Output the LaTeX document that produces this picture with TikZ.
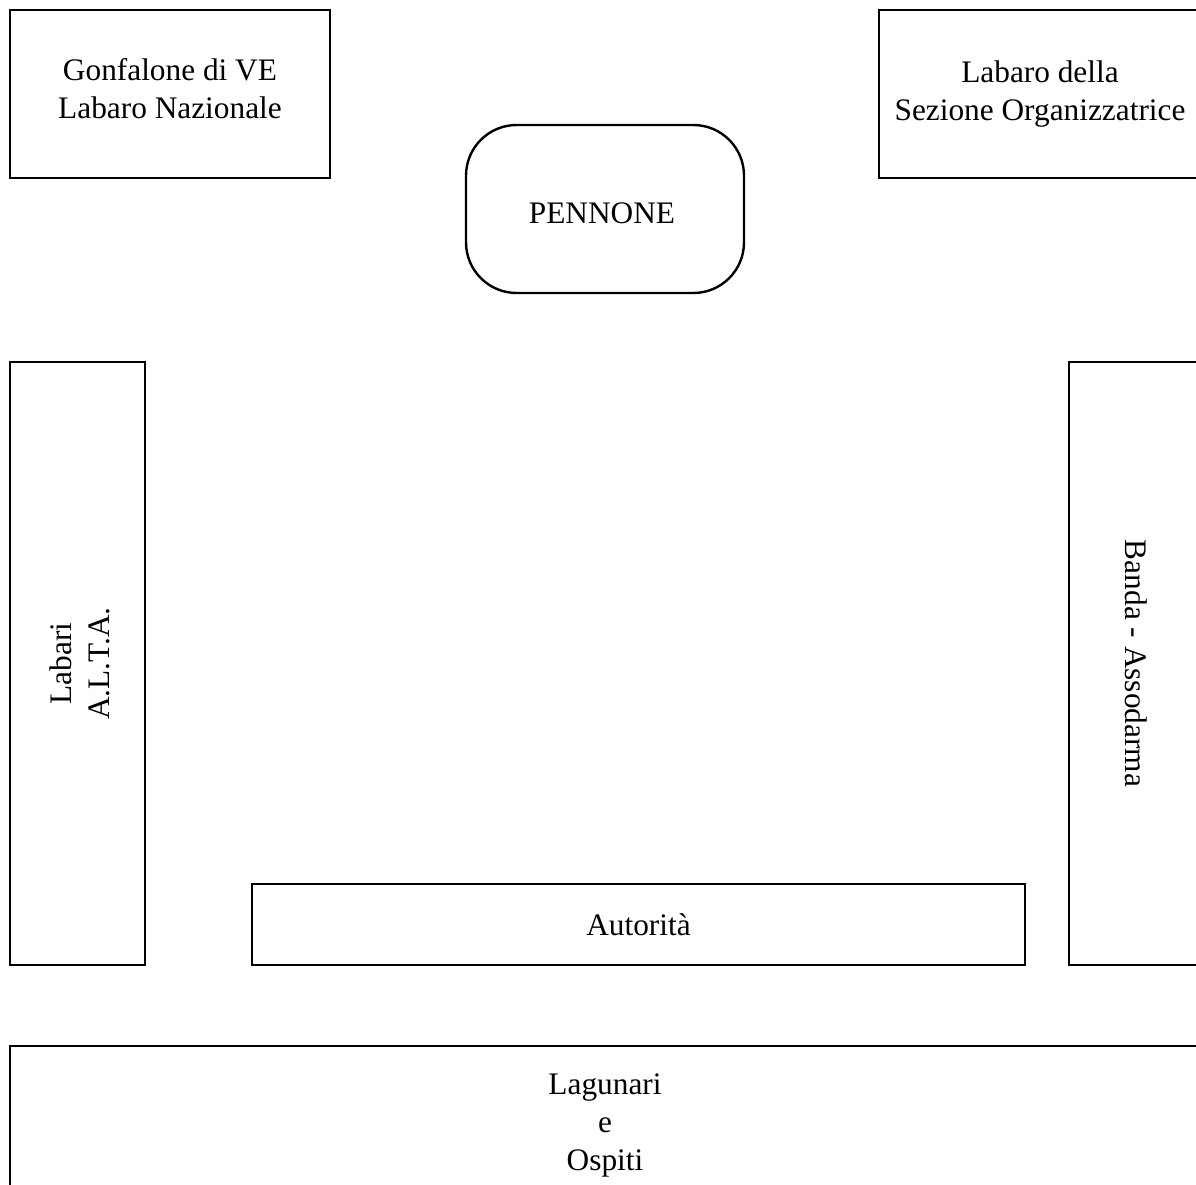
\documentclass[tikz,border=0pt]{standalone}
\usepackage{fontspec}
\setmainfont{Liberation Serif}
\begin{document}
\begin{tikzpicture}[x=0.75pt,y=-0.75pt,
  txt/.style={font=\fontsize{23.5}{28.5}\selectfont,align=center},
  box/.style={draw,line width=1.8pt,inner sep=0pt,align=center,font=\fontsize{23.5}{28.5}\selectfont,anchor=center},
  rbox/.style={box,rounded corners=38pt}]
\clip (0,0) rectangle (1196,1185);
\fill[white] (0,0) rectangle (1196,1185);
\node[box,minimum width=320*0.75pt,minimum height=168*0.75pt] (gonf) at (170,94) {};
\node[txt] (gonftxt) at (170,89) {Gonfalone di VE\\Labaro Nazionale};
\node[box,minimum width=322*0.75pt,minimum height=168*0.75pt] (labsez) at (1040,94) {Labaro della\\Sezione Organizzatrice};
\node[rbox,minimum width=278*0.75pt,minimum height=168*0.75pt] (penn) at (605,209) {};
\node[txt] (penntxt) at (602,213) {PENNONE};
\node[box,minimum width=135*0.75pt,minimum height=603*0.75pt] (labari) at (77.5,663.5) {};
\node[txt,rotate=90] (labaritxt) at (80,663.5) {Labari\\A.L.T.A.};
\node[box,minimum width=136*0.75pt,minimum height=603*0.75pt] (banda) at (1137,663.5) {};
\node[txt,rotate=-90] (bandatxt) at (1136,663.5) {Banda - Assodarma};
\node[box,minimum width=773*0.75pt,minimum height=81*0.75pt] (aut) at (638.5,924.5) {Autorità};
\node[box,minimum width=1190*0.75pt,minimum height=158*0.75pt] (lag) at (605,1125) {Lagunari\\e\\Ospiti};
\end{tikzpicture}
\end{document}
